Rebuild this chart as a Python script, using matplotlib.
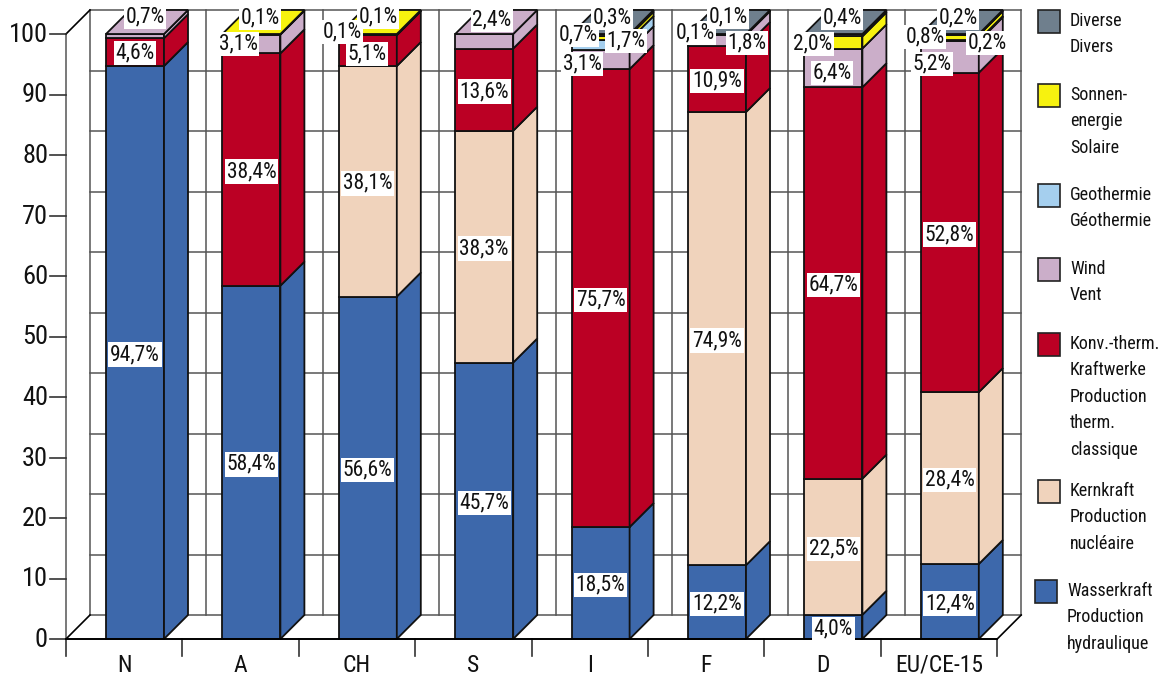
import matplotlib
matplotlib.use('Agg')
import matplotlib.pyplot as plt
from matplotlib.patches import Polygon, Rectangle

countries = ['N', 'A', 'CH', 'S', 'I', 'F', 'D', 'EU/CE-15']

# share of production in %, bottom to top of each stack
hydro = [94.7, 58.4, 56.6, 45.7, 18.5, 12.2, 4.0, 12.4]
nuclear = [0, 0, 38.1, 38.3, 0, 74.9, 22.5, 28.4]
thermal = [4.6, 38.4, 5.1, 13.6, 75.7, 10.9, 64.7, 52.8]
wind = [0.7, 3.1, 0.1, 2.4, 3.1, 1.8, 6.4, 5.2]
geothermal = [0, 0, 0, 0, 1.7, 0, 0, 0.2]
solar = [0, 0.1, 0.1, 0, 0.7, 0.1, 2.0, 0.8]
other = [0, 0, 0, 0, 0.3, 0.1, 0.4, 0.2]

series = [hydro, nuclear, thermal, wind, geothermal, solar, other]
colors = ['#3d68ab', '#f0d3bc', '#bb0024', '#cbaec9', '#a5cfee', '#f7f20f', '#6f7f8d']

legend_labels = [
    'Wasserkraft\nProduction\nhydraulique',
    'Kernkraft\nProduction\nnucléaire',
    'Konv.-therm.\nKraftwerke\nProduction\ntherm.\nclassique',
    'Wind\nVent',
    'Geothermie\nGéothermie',
    'Sonnen-\nenergie\nSolaire',
    'Diverse\nDivers',
]
# pixel position of the top left of each legend box
legend_y = [580, 480, 333, 258, 184, 84, 10]
legend_x = [1035, 1038, 1038, 1038, 1038, 1038, 1038]

# hand placed labels for the thin segments, pixel positions (series, country) -> x, y
label_pos = {
    (3, 0): (145, 17), (2, 0): (135, 53),
    (3, 1): (238, 44), (5, 1): (260, 18),
    (3, 2): (342, 32), (5, 2): (378, 17), (2, 2): (367, 54),
    (3, 3): (492, 20),
    (3, 4): (582, 64), (4, 4): (626, 41), (5, 4): (578, 35), (6, 4): (612, 18),
    (3, 5): (747, 43), (5, 5): (695, 33), (6, 5): (728, 17),
    (3, 6): (832, 73), (5, 6): (813, 44), (6, 6): (842, 18),
    (3, 7): (932, 64), (4, 7): (987, 43), (5, 7): (925, 37), (6, 7): (958, 18),
}

W, H = 1176, 675
X0, Y0 = 66, 639       # pixel of the chart origin
CAT_W, UNIT = 116.4, 6.05
DX, DY = 24 / CAT_W, 24 / UNIT   # depth of the 3d effect in data units
BAR_L, BAR_W = 40 / CAT_W, 58 / CAT_W

# the original is set in a condensed sans
plt.rcParams['font.family'] = ['Roboto Condensed', 'Roboto', 'DejaVu Sans']
fig = plt.figure(figsize=(W / 100, H / 100), dpi=100)
ax = fig.add_axes([0, 0, 1, 1])
ax.set_xlim(-X0 / CAT_W, (W - X0) / CAT_W)
ax.set_ylim((Y0 - H) / UNIT, Y0 / UNIT)
ax.axis('off')


def to_data(px, py):
    return (px - X0) / CAT_W, (Y0 - py) / UNIT


n = len(countries)
grid = dict(color='#555555', lw=1.1, zorder=1)
# back wall
for v in range(0, 101, 10):
    ax.plot([DX, n + DX], [v + DY, v + DY], **grid)
for i in range(n + 1):
    ax.plot([i + DX, i + DX], [DY, 100 + DY], **grid)
# left wall and floor
ax.plot([0, 0], [0, 100], **grid)
ax.plot([0, DX], [100, 100 + DY], color='k', lw=1.2, zorder=1)
ax.plot([0, DX], [0, DY], color='k', lw=1.2, zorder=1)
ax.plot([n, n + DX], [0, DY], color='k', lw=1.2, zorder=1)
ax.plot([0, n], [0, 0], color='k', lw=1.4, zorder=6)

# axis ticks
for v in range(0, 101, 10):
    ax.plot([-16 / CAT_W, 0], [v, v], color='#333333', lw=1.2, zorder=1)
    ax.text(-18 / CAT_W, v - 1 / UNIT, str(v), ha='right', va='center', fontsize=19, color='#111111')
for i in range(n + 1):
    ax.plot([i, i], [0, -17 / UNIT], color='#333333', lw=1.2, zorder=1)
for i, name in enumerate(countries):
    ax.text(i + 0.5, -26 / UNIT, name, ha='center', va='center', fontsize=17, color='#111111')

# stacked bars with a side and a top face
for i in range(n):
    x0, x1 = i + BAR_L, i + BAR_L + BAR_W
    base = 0
    z = 2 + i * 0.1
    top_color = None
    for s, vals in enumerate(series):
        v = vals[i]
        if v == 0:
            continue
        ax.add_patch(Rectangle((x0, base), BAR_W, v, fc=colors[s], ec='#111111', lw=1.3, zorder=z))
        ax.add_patch(Polygon([(x1, base), (x1 + DX, base + DY), (x1 + DX, base + v + DY), (x1, base + v)],
                             fc=colors[s], ec='#111111', lw=1.3, zorder=z))
        base += v
        top_color = colors[s]
    ax.add_patch(Polygon([(x0, base), (x1, base), (x1 + DX, base + DY), (x0 + DX, base + DY)],
                         fc=top_color, ec='#111111', lw=1.3, zorder=z))

# value labels
for s, vals in enumerate(series):
    for i, v in enumerate(vals):
        if v == 0:
            continue
        if (s, i) in label_pos:
            lx, ly = to_data(*label_pos[(s, i)])
        else:
            lx = i + BAR_L + BAR_W / 2
            ly = sum(series[k][i] for k in range(s)) + v / 2 - 2 / UNIT
        ax.text(lx, ly, f'{v:.1f}%'.replace('.', ','), ha='center', va='center', fontsize=15.5,
                color='#111111', zorder=10,
                bbox=dict(fc='white', ec='none', pad=1.2))

# legend
for label, c, lx, ly in zip(legend_labels, colors, legend_x, legend_y):
    bx, by = to_data(lx, ly + 23)
    ax.add_patch(Rectangle((bx, by), 22 / CAT_W, 23 / UNIT, fc=c, ec='#222222', lw=1.2, zorder=5))
    tx, ty = to_data(lx + 32, ly + 2)
    ax.text(tx, ty, label, ha='left', va='top', fontsize=13, color='#111111', linespacing=1.6)

fig.savefig('out.png', dpi=100)
